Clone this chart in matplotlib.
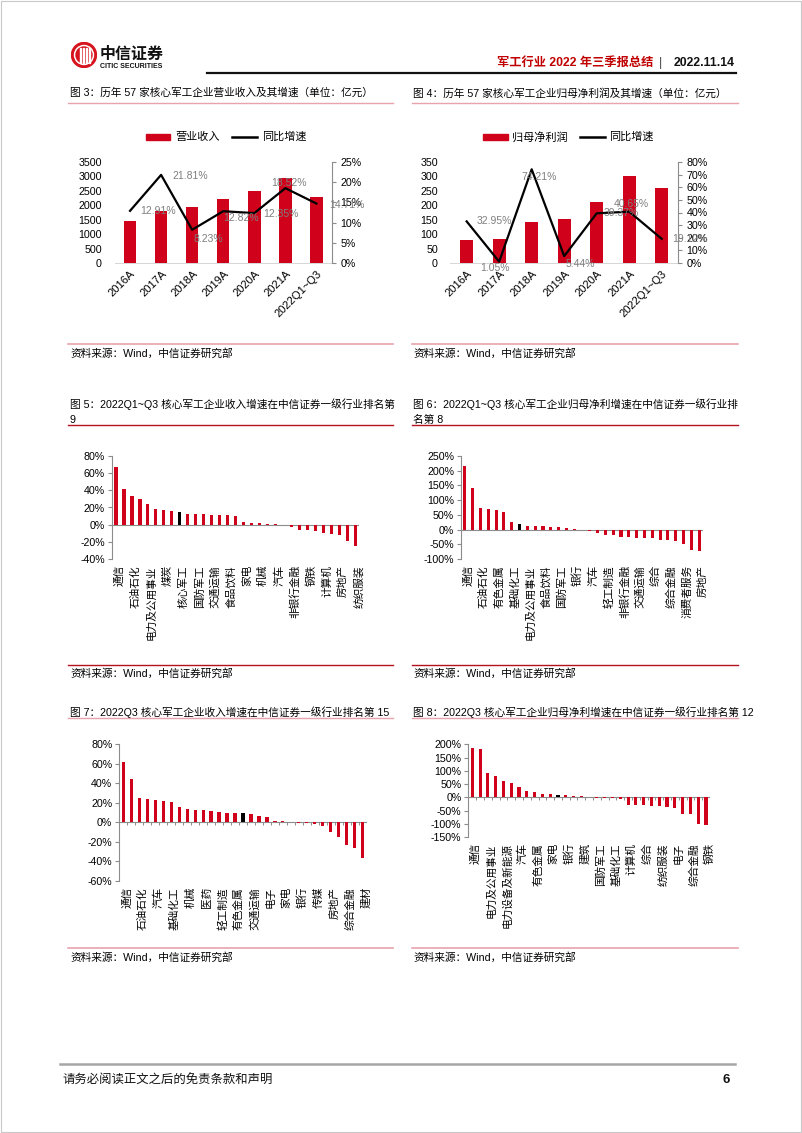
import matplotlib
matplotlib.use('Agg')
import matplotlib.pyplot as plt
from matplotlib.patches import Circle, Rectangle
from matplotlib.lines import Line2D
import numpy as np

plt.rcParams['font.family'] = ['Liberation Sans', 'Noto Sans CJK SC', 'DejaVu Sans']
plt.rcParams['axes.unicode_minus'] = False

# ---------------- data ----------------
years = ['2016A', '2017A', '2018A', '2019A', '2020A', '2021A', '2022Q1~Q3']
revenue = [1467, 1790, 1952, 2206, 2483, 2945, 2298]
revenue_growth = [12.91, 21.81, 8.23, 12.82, 12.35, 18.52, 14.71]
profit = [81, 82, 143, 151, 212, 300, 259]
profit_growth = [32.95, 1.05, 74.21, 5.44, 39.37, 40.65, 19.12]

labels5 = ['通信', '石油石化', '电力及公用事业', '煤炭', '核心军工', '国防军工', '交通运输', '食品饮料',
           '家电', '机械', '汽车', '非银行金融', '钢铁', '计算机', '房地产', '纺织服装']
values5 = [67, 41.5, 33, 29.6, 23.7, 18, 17, 15.5, 14.4, 12.8, 12.8, 12.7, 11.7, 10.9, 10.9, 9.7,
           3, 2.3, 1.5, 0.8, 0.3, -0.2, -2.7, -5.8, -5.8, -7.8, -9.7, -11, -12.5, -18.7, -25]
highlight5 = 8

labels6 = ['通信', '石油石化', '有色金属', '基础化工', '电力及公用事业', '食品饮料', '国防军工', '银行',
           '汽车', '轻工制造', '非银行金融', '交通运输', '综合', '综合金融', '消费者服务', '房地产']
values6 = [216, 140, 72, 69, 65, 59, 25, 18, 12.5, 11.4, 11, 10, 8, 6, 1, -2, -4.5, -13, -19, -20,
           -24, -26, -28, -29.5, -30, -34, -36, -40, -48, -68, -73]
highlight6 = 7

labels7 = ['通信', '石油石化', '汽车', '基础化工', '机械', '医药', '轻工制造', '有色金属',
           '交通运输', '电子', '家电', '银行', '传媒', '房地产', '综合金融', '建材']
values7 = [62, 44, 25, 24, 22.8, 22, 20.8, 15.4, 14, 13, 12.3, 11.3, 10.2, 9.9, 9.6, 9.2, 8.2, 6.1,
           6, 1.4, 1, 0.2, -0.4, -1, -2, -3.4, -10, -15, -23, -26.5, -36.5]
highlight7 = 15

labels8 = ['通信', '电力及公用事业', '电力设备及新能源', '汽车', '有色金属', '家电', '银行', '建筑',
           '国防军工', '基础化工', '计算机', '综合', '纺织服装', '电子', '综合金融', '钢铁']
values8 = [185, 182, 90, 79, 62, 53, 39, 25, 20, 11, 11, 9, 8, 6.5, 5, 0.3, -1, -2, -4, -6,
           -28, -30, -31, -33, -34, -35, -40, -63, -65, -100, -105]
highlight8 = 11

# ---------------- layout helpers ----------------
W, H = 802, 1133
fig = plt.figure(figsize=(W / 100, H / 100), dpi=100)
fig.patch.set_facecolor('white')

RED = '#D0021B'
PINK = '#E8A3AC'
DARKRED = '#B3121F'
AXG = '#8C8C8C'
LBLG = '#7F7F7F'
FS = 7.7


def axpx(x0, y0, x1, y1):
    return fig.add_axes([x0 / W, 1 - y1 / H, (x1 - x0) / W, (y1 - y0) / H])


def ftext(x, y, s, **kw):
    kw.setdefault('va', 'center')
    return fig.text(x / W, 1 - y / H, s, **kw)


def hline(x0, x1, y, color, lw):
    fig.add_artist(Line2D([x0 / W, x1 / W], [1 - y / H, 1 - y / H], color=color, lw=lw,
                          transform=fig.transFigure))


# page border
fig.add_artist(Rectangle((0.0008, 0.0006), 0.9984, 0.9988, fill=False, edgecolor='#C8C8C8',
                         lw=0.8, transform=fig.transFigure))

# ---------------- header ----------------
lax = axpx(71, 42, 97, 68)
lax.set_xlim(0, 26)
lax.set_ylim(0, 26)
lax.axis('off')
lax.add_patch(Circle((13, 13), 12.5, color='#D7141E'))
lax.add_patch(Circle((13, 13), 9.5, color='white'))
lax.add_patch(Circle((13, 13), 8.0, color='#D7141E'))
for xx in [8.5, 11.5, 14.5, 17.5]:
    lax.add_patch(Rectangle((xx, 5.5), 1.1, 15, color='white'))
ftext(100, 54, '中信证券', fontsize=11.5, fontweight='bold', color='#111111',
      family=['Noto Sans CJK SC'])
ftext(100, 67, 'CITIC SECURITIES', fontsize=5.0, fontweight='bold', color='#111111')

ftext(735, 63, '2022.11.14', fontsize=8.8, fontweight='bold', color='#111111', ha='right')
ftext(660, 63, '|', fontsize=9, color='#444444', ha='center')
ftext(653, 63, '军工行业 2022 年三季报总结', fontsize=8.8, fontweight='bold', color='#C00000',
      ha='right')
hline(207, 736, 73, '#111111', 1.6)

# ---------------- titles / sources ----------------
ftext(70, 93, '图 3：历年 57 家核心军工企业营业收入及其增速（单位：亿元）', fontsize=FS)
ftext(413, 93, '图 4：历年 57 家核心军工企业归母净利润及其增速（单位：亿元）', fontsize=FS)
hline(68, 393, 103, PINK, 1.0)
hline(412, 738, 103, PINK, 1.0)
hline(68, 393, 344, PINK, 1.2)
hline(412, 738, 344, PINK, 1.2)
ftext(70, 353, '资料来源：Wind，中信证券研究部', fontsize=FS)
ftext(413, 353, '资料来源：Wind，中信证券研究部', fontsize=FS)

ftext(70, 404, '图 5：2022Q1~Q3 核心军工企业收入增速在中信证券一级行业排名第', fontsize=FS)
ftext(70, 420, '9', fontsize=FS)
ftext(413, 404, '图 6：2022Q1~Q3 核心军工企业归母净利增速在中信证券一级行业排', fontsize=FS)
ftext(413, 420, '名第 8', fontsize=FS)
hline(68, 393, 425, DARKRED, 1.0)
hline(412, 738, 425, DARKRED, 1.0)
hline(68, 393, 665, DARKRED, 1.0)
hline(412, 738, 665, DARKRED, 1.0)
ftext(70, 673, '资料来源：Wind，中信证券研究部', fontsize=FS)
ftext(413, 673, '资料来源：Wind，中信证券研究部', fontsize=FS)

ftext(70, 712, '图 7：2022Q3 核心军工企业收入增速在中信证券一级行业排名第 15', fontsize=FS)
ftext(413, 712, '图 8：2022Q3 核心军工企业归母净利增速在中信证券一级行业排名第 12', fontsize=FS)
hline(68, 393, 718, PINK, 1.0)
hline(412, 738, 718, PINK, 1.0)
hline(68, 393, 948, PINK, 1.2)
hline(412, 738, 948, PINK, 1.2)
ftext(70, 957, '资料来源：Wind，中信证券研究部', fontsize=FS)
ftext(413, 957, '资料来源：Wind，中信证券研究部', fontsize=FS)

# footer
hline(60, 735, 1064, '#A6A6A6', 1.8)
ftext(62, 1080, '请务必阅读正文之后的免责条款和声明', fontsize=8.9, color='#111111')
ftext(730, 1080, '6', fontsize=9.5, fontweight='bold', color='#111111', ha='right')


# ---------------- combo charts ----------------
def combo(box, bars, growth, bar_max, bar_step, g_max, g_step, offsets, legend):
    ax = axpx(*box)
    x = np.arange(len(years))
    ax.bar(x, bars, width=0.4, color=RED, zorder=2)
    ax.set_xlim(-0.5, len(years) - 0.5)
    ax.set_ylim(0, bar_max)
    ax.set_yticks(np.arange(0, bar_max + 1, bar_step))
    for s in ['top', 'right', 'left']:
        ax.spines[s].set_visible(False)
    ax.spines['bottom'].set_color('#D0D0D0')
    ax.spines['bottom'].set_linewidth(0.6)
    ax.tick_params(axis='y', length=0, pad=9, labelsize=FS)
    ax.tick_params(axis='x', length=0, pad=4, labelsize=8)
    ax.set_xticks(x)
    ax.set_xticklabels(years, rotation=45, ha='right', va='top', rotation_mode='anchor')

    ax2 = ax.twinx()
    ax2.plot(x, growth, color='black', lw=1.6, zorder=3)
    ax2.set_ylim(0, g_max)
    ax2.set_yticks(np.arange(0, g_max + 0.1, g_step))
    ax2.set_yticklabels(['{:.0f}%'.format(v) for v in np.arange(0, g_max + 0.1, g_step)])
    for s in ['top', 'left', 'bottom']:
        ax2.spines[s].set_visible(False)
    ax2.spines['right'].set_color(AXG)
    ax2.spines['right'].set_linewidth(0.8)
    ax2.tick_params(axis='y', length=3, color=AXG, pad=3, labelsize=FS)
    for xi, g, (dx, dy) in zip(x, growth, offsets):
        ax2.annotate('{:.2f}%'.format(g), (xi, g), xytext=(dx, -dy), textcoords='offset pixels',
                     ha='center', va='center', fontsize=7.5, color=LBLG, zorder=4)

    (rx0, rx1, tx1, lx0, lx1, tx2, ly, name) = legend
    fig.add_artist(Rectangle((rx0 / W, 1 - (ly + 3) / H), (rx1 - rx0) / W, 6 / H, color=RED,
                             transform=fig.transFigure))
    ftext(tx1, ly, name, fontsize=8)
    hline(lx0, lx1, ly, 'black', 1.8)
    ftext(tx2, ly, '同比增速', fontsize=8)


combo((114.5, 162, 332, 263), revenue, revenue_growth, 3500, 500, 25, 5,
      [(28, 0), (29, 1), (16, 9), (18, 7), (27, 1), (4, -5), (30, 1)],
      (146, 170, 175, 232, 257, 262, 137, '营业收入'))
combo((450.4, 162, 678, 263), profit, profit_growth, 350, 50, 80, 10,
      [(28, 0), (-4, 6), (7, 8), (16, 8), (25, 0), (2.5, -8), (28, 0)],
      (483, 508, 512, 580, 605, 609, 137, '归母净利润'))


# ---------------- ranking bar charts ----------------
def ranking(box, values, labels, hi, ymin, ymax, step, boundary_ticks):
    ax = axpx(*box)
    n = len(values)
    x = np.arange(n)
    colors = [RED] * n
    colors[hi] = 'black'
    ax.bar(x, values, width=0.4, color=colors, zorder=2)
    ax.set_xlim(-0.5, n - 0.5)
    ax.set_ylim(ymin, ymax)
    ticks = np.arange(ymin, ymax + 0.1, step)
    ax.set_yticks(ticks)
    ax.set_yticklabels(['{:.0f}%'.format(t) for t in ticks])
    for s in ['top', 'right', 'bottom']:
        ax.spines[s].set_visible(False)
    ax.spines['left'].set_color(AXG)
    ax.spines['left'].set_linewidth(0.8)
    ax.tick_params(axis='y', length=3, color=AXG, pad=2, labelsize=FS)
    ax.axhline(0, color=AXG, lw=0.8, zorder=1)
    ax.set_xticks(np.arange(0, n, 2) + 0.45)
    ax.set_xticklabels(labels, rotation=90, ha='center', va='top')
    ax.tick_params(axis='x', length=0, pad=4.5, labelsize=FS)
    if boundary_ticks:
        hpx = (box[3] - box[1])
        tl = (ymax - ymin) / hpx * 3
        ax.vlines(np.arange(n - 1) + 0.5, -tl, 0, color=AXG, lw=0.7, zorder=1)


ranking((112, 456, 359.3, 559), values5, labels5, highlight5, -40, 80, 20, False)
ranking((461, 456, 703, 559), values6, labels6, highlight6, -100, 250, 50, False)
ranking((119.3, 744.3, 366.7, 881), values7, labels7, highlight7, -60, 80, 20, True)
ranking((468.4, 744.3, 709.9, 837), values8, labels8, highlight8, -150, 200, 50, True)

fig.savefig('out.png', dpi=100)
